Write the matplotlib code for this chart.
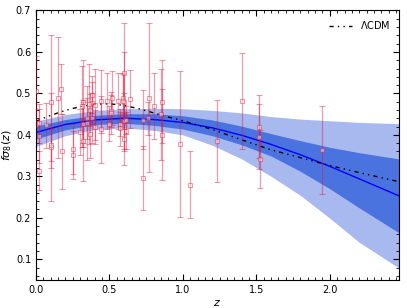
import matplotlib
matplotlib.use("Agg")
import matplotlib.pyplot as plt
from matplotlib.ticker import MultipleLocator

# ---- observational f*sigma8 compilation (z, value, error) ----
z_data = [0.35, 0.77, 0.17, 0.02, 0.02, 0.25, 0.37, 0.25, 0.37, 0.44,
          0.60, 0.73, 0.067, 0.30, 0.40, 0.50, 0.60, 0.80, 0.35, 0.18,
          0.38, 0.32, 0.32, 0.57, 0.15, 0.10, 1.40, 0.59, 0.38, 0.51,
          0.61, 0.38, 0.51, 0.61, 0.76, 1.05, 0.32, 0.57, 0.727, 0.02,
          0.60, 0.86, 0.60, 0.86, 0.10, 0.001, 0.85, 0.31, 0.36, 0.40,
          0.44, 0.48, 0.52, 0.56, 0.59, 0.64, 0.10, 1.52, 1.52, 0.978,
          1.23, 1.526, 1.944]
fs8_data = [0.440, 0.490, 0.510, 0.314, 0.398, 0.3512, 0.4602, 0.3665, 0.4031, 0.413,
            0.390, 0.437, 0.423, 0.407, 0.419, 0.427, 0.433, 0.470, 0.429, 0.360,
            0.440, 0.384, 0.480, 0.417, 0.490, 0.370, 0.482, 0.488, 0.497, 0.458,
            0.436, 0.477, 0.453, 0.410, 0.440, 0.280, 0.427, 0.426, 0.296, 0.428,
            0.480, 0.480, 0.550, 0.400, 0.480, 0.505, 0.450, 0.469, 0.474, 0.473,
            0.481, 0.482, 0.488, 0.482, 0.481, 0.486, 0.376, 0.420, 0.396, 0.379,
            0.385, 0.342, 0.364]
err_data = [0.050, 0.180, 0.060, 0.048, 0.065, 0.0583, 0.0378, 0.0601, 0.0586, 0.080,
            0.063, 0.072, 0.055, 0.055, 0.041, 0.043, 0.067, 0.080, 0.089, 0.090,
            0.060, 0.095, 0.100, 0.045, 0.145, 0.130, 0.116, 0.060, 0.045, 0.038,
            0.034, 0.051, 0.050, 0.044, 0.040, 0.080, 0.056, 0.029, 0.0765, 0.0465,
            0.120, 0.100, 0.120, 0.110, 0.160, 0.085, 0.110, 0.098, 0.097, 0.086,
            0.076, 0.067, 0.065, 0.067, 0.066, 0.070, 0.038, 0.076, 0.079, 0.176,
            0.099, 0.070, 0.106]

# ---- reconstruction (best fit with 1 and 2 sigma bands) ----
z_grid = [0.0, 0.2, 0.4, 0.6, 0.8, 1.0, 1.2, 1.4, 1.6, 1.8, 2.0, 2.2, 2.47]
best_fit = [0.406, 0.425, 0.436, 0.440, 0.437, 0.430, 0.417, 0.399, 0.377, 0.352, 0.324, 0.294, 0.253]
sig1_hi = [0.421, 0.437, 0.447, 0.451, 0.451, 0.446, 0.436, 0.421, 0.403, 0.386, 0.370, 0.357, 0.342]
sig1_lo = [0.390, 0.412, 0.425, 0.428, 0.423, 0.414, 0.398, 0.376, 0.349, 0.312, 0.270, 0.224, 0.164]
sig2_hi = [0.433, 0.449, 0.459, 0.463, 0.464, 0.463, 0.459, 0.453, 0.444, 0.438, 0.434, 0.430, 0.427]
sig2_lo = [0.372, 0.398, 0.413, 0.417, 0.411, 0.400, 0.375, 0.342, 0.300, 0.254, 0.199, 0.141, 0.079]

# ---- LCDM curve ----
z_lcdm = [0.0, 0.1, 0.2, 0.3, 0.4, 0.5, 0.6, 0.7, 0.8, 0.9, 1.0, 1.2, 1.4, 1.6, 1.8, 2.0, 2.2, 2.47]
fs8_lcdm = [0.433, 0.447, 0.459, 0.468, 0.474, 0.475, 0.471, 0.463, 0.453, 0.443, 0.434, 0.413,
            0.388, 0.364, 0.345, 0.326, 0.309, 0.287]

fig = plt.figure(figsize=(4.07, 3.08), dpi=100)
ax = fig.add_axes([0.0885, 0.091, 0.8915, 0.875])

ax.fill_between(z_grid, sig2_lo, sig2_hi, color="#a8b9f0", lw=0, zorder=1)
ax.fill_between(z_grid, sig1_lo, sig1_hi, color="#4b73e0", lw=0, zorder=2)
ax.plot(z_grid, best_fit, color="blue", lw=1.0, zorder=3)
ax.plot(z_lcdm, fs8_lcdm, color="black", lw=1.0, dashes=(3, 3, 1, 3, 1, 3),
        zorder=4, label=r"$\Lambda$CDM")

ax.errorbar(z_data, fs8_data, yerr=err_data, fmt="s", ms=3, mfc="white",
            mec="#dc143c", ecolor="#dc143c", elinewidth=0.9, capsize=2,
            capthick=0.9, mew=0.8, alpha=0.42, zorder=5)

ax.set_xlim(0, 2.47)
ax.set_ylim(0.05, 0.7)
ax.xaxis.set_major_locator(MultipleLocator(0.5))
ax.xaxis.set_minor_locator(MultipleLocator(0.05))
ax.yaxis.set_major_locator(MultipleLocator(0.1))
ax.yaxis.set_minor_locator(MultipleLocator(0.02))
ax.tick_params(which="both", direction="in", top=True, right=True, labelsize=7)
ax.tick_params(which="major", length=4)
ax.tick_params(which="minor", length=2)

ax.set_xlabel(r"$z$", fontsize=8, labelpad=2)
ax.set_ylabel(r"$f\sigma_8(z)$", fontsize=8, labelpad=1)

ax.legend(loc="upper right", frameon=False, fontsize=7, handlelength=2.4)

fig.savefig("out.png", dpi=100)
